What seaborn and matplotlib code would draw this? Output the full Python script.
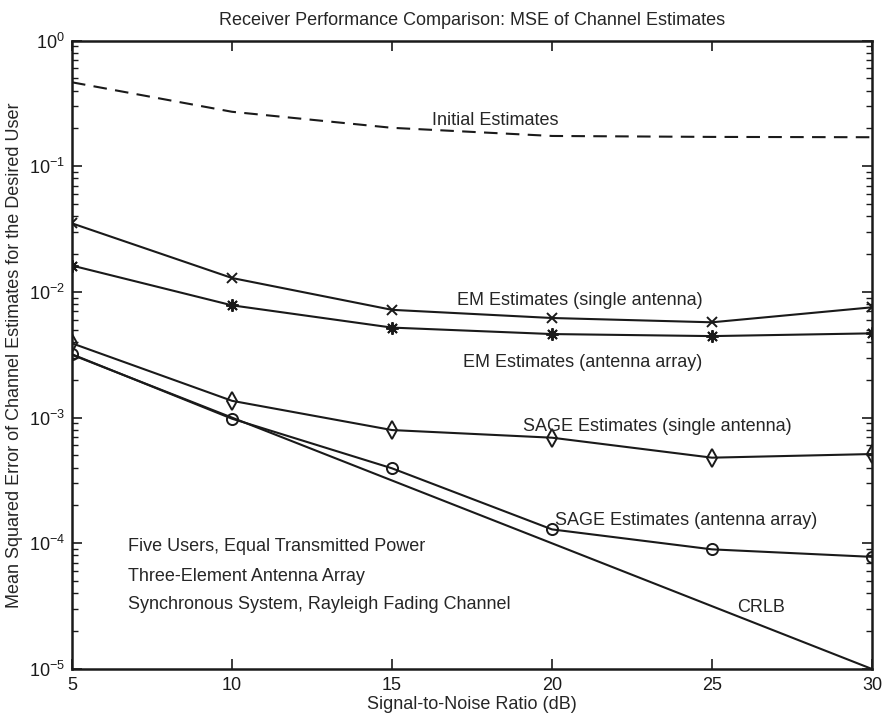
import numpy as np
import pandas as pd
import matplotlib
matplotlib.use("Agg")
import matplotlib.pyplot as plt
import seaborn as sns
from matplotlib.ticker import LogLocator, FixedLocator

snr = [5, 10, 15, 20, 25, 30]
initial = [0.465, 0.271, 0.202, 0.174, 0.171, 0.170]
em_single = [0.0351, 0.0129, 0.0072, 0.0062, 0.00573, 0.00754]
em_array = [0.0162, 0.00782, 0.0052, 0.00462, 0.00445, 0.00468]
sage_single = [0.0039, 0.00136, 0.000796, 0.000692, 0.00048, 0.000513]
sage_array = [0.00319, 0.00098, 0.000395, 0.000129, 8.95e-5, 7.8e-5]
crlb = [3.16e-3, 1.0e-3, 3.16e-4, 1.0e-4, 3.16e-5, 1.0e-5]

title = "Receiver Performance Comparison: MSE of Channel Estimates"
xlabel = "Signal-to-Noise Ratio (dB)"
ylabel = "Mean Squared Error of Channel Estimates for the Desired User"
x_ticks = [5, 10, 15, 20, 25, 30]

sns.set_theme(style="ticks")
plt.rcParams["font.family"] = ["Liberation Sans", "DejaVu Sans"]
plt.rcParams["mathtext.fontset"] = "custom"
plt.rcParams["mathtext.rm"] = "Liberation Sans"
plt.rcParams["mathtext.it"] = "Liberation Sans:italic"
plt.rcParams["mathtext.bf"] = "Liberation Sans:bold"

fig = plt.figure(figsize=(8.83, 7.15), dpi=100)
ax = fig.add_axes([72/883, 46/715, 800/883, 628.5/715])

FS = 13
lw = 1.5
sns.lineplot(x=snr, y=initial, ax=ax, color="k", lw=lw)
ax.lines[-1].set_dashes((6.5, 4))
sns.lineplot(x=snr, y=em_single, ax=ax, color="k", lw=lw, marker="x",
             markersize=7, markeredgewidth=1.4, markeredgecolor="k")
sns.lineplot(x=snr, y=em_array, ax=ax, color="k", lw=lw, marker=(8, 2, 0),
             markersize=9, markeredgewidth=1.4, markeredgecolor="k")
sns.lineplot(x=snr, y=sage_single, ax=ax, color="k", lw=lw, marker="d",
             markersize=9, markerfacecolor="none", markeredgewidth=1.4, markeredgecolor="k")
sns.lineplot(x=snr, y=sage_array, ax=ax, color="k", lw=lw, marker="o",
             markersize=8, markerfacecolor="none", markeredgewidth=1.4, markeredgecolor="k")
sns.lineplot(x=snr, y=crlb, ax=ax, color="k", lw=lw)

ax.set_yscale("log")
ax.set_xlim(5, 30)
ax.set_ylim(1e-5, 1)
ax.xaxis.set_major_locator(FixedLocator(x_ticks))
ax.yaxis.set_major_locator(LogLocator(base=10, numticks=10))
ax.yaxis.set_minor_locator(LogLocator(base=10, subs=np.arange(2, 10), numticks=20))
ax.tick_params(which="both", direction="in", top=True, right=True, colors="k",
               labelsize=FS)
ax.tick_params(which="major", length=7, width=1.2)
ax.tick_params(which="minor", length=4, width=1.0)
ax.tick_params(axis="x", which="major", pad=6)
ax.tick_params(axis="y", which="major", pad=5)
ax.tick_params(axis="x", which="minor", top=False, bottom=False)
for s in ax.spines.values():
    s.set_linewidth(1.8)
    s.set_color("k")
    s.set_visible(True)

ax.set_title(title, fontsize=FS, pad=11)
ax.set_xlabel(xlabel, fontsize=FS, labelpad=1)
ax.set_ylabel(ylabel, fontsize=FS, labelpad=4)

ax.text(16.25, 0.233, "Initial Estimates", fontsize=FS, va="center", ha="left")
ax.text(24.72, 0.00847, "EM Estimates (single antenna)", fontsize=FS, va="center", ha="right")
ax.text(17.22, 0.00272, "EM Estimates (antenna array)", fontsize=FS, va="center", ha="left")
ax.text(19.09, 0.000847, "SAGE Estimates (single antenna)", fontsize=FS, va="center", ha="left")
ax.text(20.09, 0.000151, "SAGE Estimates (antenna array)", fontsize=FS, va="center", ha="left")
ax.text(25.78, 3.11e-5, "CRLB", fontsize=FS, va="center", ha="left")
ax.text(6.75, 9.35e-5, "Five Users, Equal Transmitted Power", fontsize=FS, va="center", ha="left")
ax.text(6.75, 5.49e-5, "Three-Element Antenna Array", fontsize=FS, va="center", ha="left")
ax.text(6.75, 3.23e-5, "Synchronous System, Rayleigh Fading Channel", fontsize=FS, va="center", ha="left")

fig.savefig("out.png", dpi=100, facecolor="white")
